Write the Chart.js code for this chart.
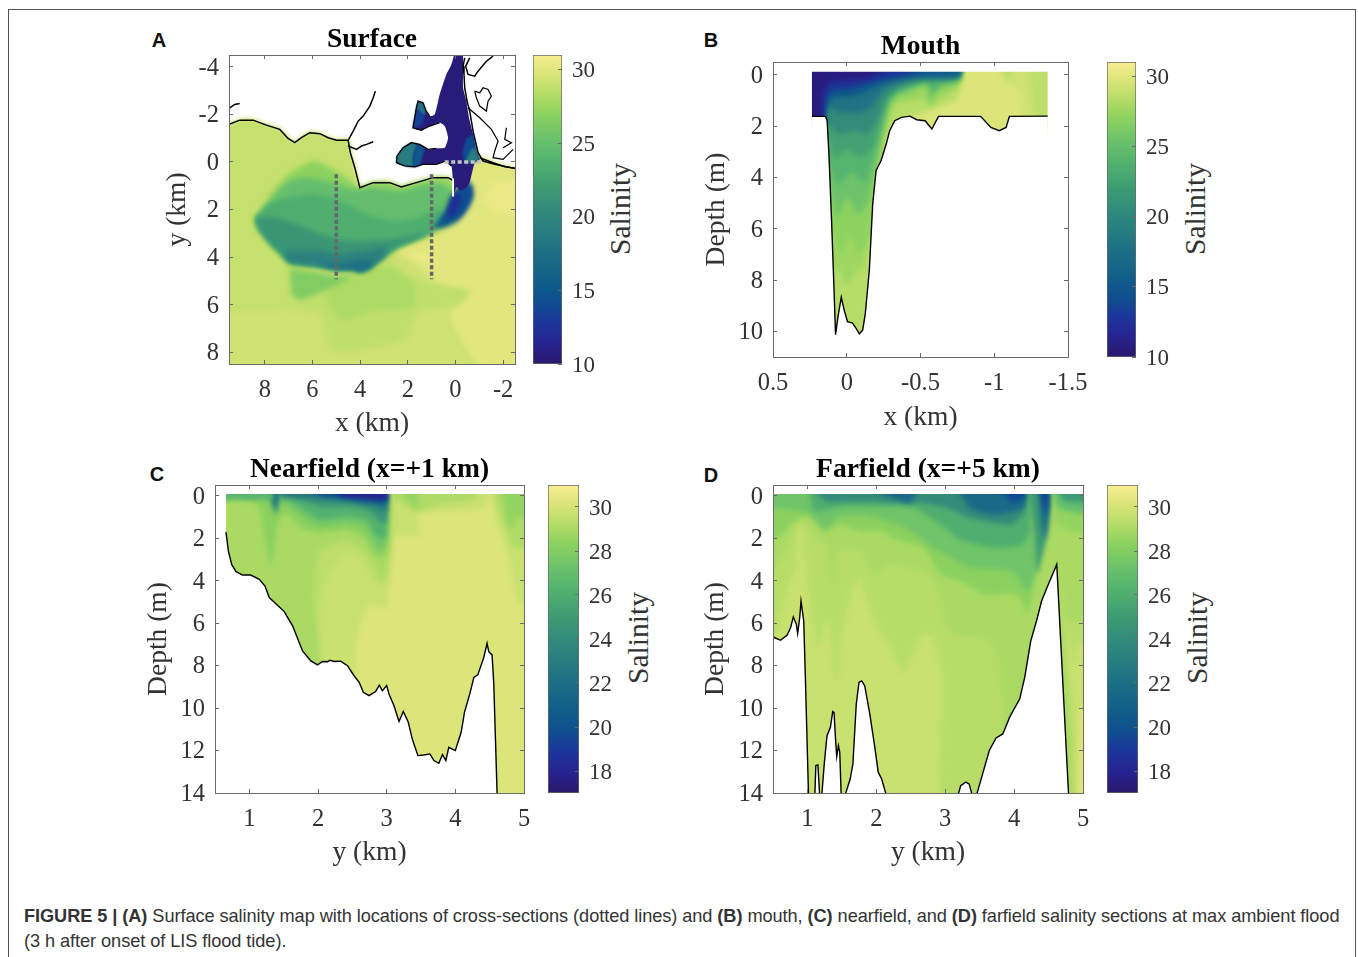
<!DOCTYPE html>
<html>
<head>
<meta charset="utf-8">
<title>Figure 5</title>
<script src="https://cdn.jsdelivr.net/npm/chart.js"></script>
<style>
    html, body { margin: 0; background: #fff; overflow: hidden; }
    body { width: 1358px; height: 957px; position: relative; }
    canvas { position: absolute; }
    #frame { position: absolute; left: 8px; top: 9px; width: 1348px; height: 980px; border: 1.5px solid #555; box-sizing: border-box; }
    .letter { position: absolute; font: bold 20px "Liberation Sans"; color: #111; transform: translate(-50%, -50%); }
    .barlabel { position: absolute; font: 29.5px "Liberation Serif"; color: #333; transform: translate(-50%, -50%) rotate(-90deg); }
    .caption { position: absolute; left: 24px; font: 18.2px "Liberation Sans"; color: #333; white-space: nowrap; transform: translateY(-50%); letter-spacing: -0.07px; }
</style>
</head>
<body>
<div id="frame"></div>
<div class="letter" style="left:159px;top:40px">A</div>
<div class="letter" style="left:711px;top:40px">B</div>
<div class="letter" style="left:157px;top:474px">C</div>
<div class="letter" style="left:711px;top:475px">D</div>
<div class="barlabel" style="left:620px;top:209px">Salinity</div>
<div class="barlabel" style="left:1195px;top:209px">Salinity</div>
<div class="barlabel" style="left:638px;top:638px">Salinity</div>
<div class="barlabel" style="left:1197px;top:638px">Salinity</div>
<div class="caption" style="top:916px"><b>FIGURE 5 | (A)</b> Surface salinity map with locations of cross-sections (dotted lines) and <b>(B)</b> mouth, <b>(C)</b> nearfield, and <b>(D)</b> farfield salinity sections at max ambient flood</div>
<div class="caption" style="top:941px">(3 h after onset of LIS flood tide).</div>
<script>
// tick labels
const aXTicks = [8, 6, 4, 2, 0, -2];
const aYTicks = [-4, -2, 0, 2, 4, 6, 8];
const bXTicks = [0.5, 0, -0.5, -1, -1.5];
const bYTicks = [0, 2, 4, 6, 8, 10];
const sectionXTicks = [1, 2, 3, 4, 5];
const sectionYTicks = [0, 2, 4, 6, 8, 10, 12, 14];
const wideBarTicks = [10, 15, 20, 25, 30];
const narrowBarTicks = [18, 20, 22, 24, 26, 28, 30];

// Contour polygons run past the plot box so softening leaves no pale rim at its edges.

// Panel A, surface map: [x km, y km]
const aCoastWest = [[9.5,-1.58],[9.05,-1.76],[8.49,-1.76],[7.93,-1.55],[7.37,-1.37],[7.02,-0.99],[6.74,-0.81],[6.46,-1.02],[6.11,-1.23],[5.69,-1.19],[5.34,-1.02],[4.99,-0.91],[4.5,-0.91],[4.41,-0.39],[4.22,0.24],[4.01,1.08],[3.45,0.87],[2.76,0.87],[2.27,1.05],[1.64,0.87],[0.94,0.66],[0.31,0.66],[0.05,0.8]];
const aCoastEast = [[-1.02,-0.18],[-1.58,0.03],[-2.07,0.2],[-2.5,0.27]];
const aWater = [[10,-1.58], ...aCoastWest, [-0.3,0.8], [-0.67,0.1], ...aCoastEast, [-3,0.27], [-3,9], [10,9]];
const aWest = [[10,-1.58], ...aCoastWest.slice(0, 20), [1.5,3],[2.5,4],[3.5,5],[5,6.3],[7,6.2],[10,6.3]];
const aEast = [[-3,0.27],[-2.49,0.27],[-1.58,0.03],[-1.02,-0.18],[-0.6,0.24],[-0.6,1.08],[-0.18,2.34],[0.66,3.04],[2.48,3.74],[1.64,4.3],[0.66,5.14],[-0.6,5.56],[0.24,6.4],[-0.18,7.38],[-1.3,9],[-3,9]];
const aEastBright = [[-1.5,0.9],[-3,0.8],[-3,2.2],[-1.7,2.2],[-1.2,1.6]];
const aStreak = [[2.1,3.9],[1.2,4.3],[0.6,4.3],[1.3,3.8]];
const aSouth = [[7.09,4.44],[4.85,4.86],[2.9,4.16],[2.06,4.72],[0.94,5.14],[-0.6,5.42],[-0.04,5.98],[1.64,6.4],[2.06,7.38],[4.15,7.94],[5.27,7.87],[5.62,6.4],[6.67,5.84],[6.95,5.28]];
const aSouthDeep = [[3.59,4.5],[4.85,5],[5.41,5.7],[4.71,6.68],[3.45,6.26],[1.78,6.12],[1.78,5.14],[2.62,4.44]];
const aSpur = [[6.95,4.47],[5.83,4.65],[4.85,4.83],[4.29,4.69],[4.85,5.14],[5.69,5.49],[6.53,5.81],[6.88,5.56]];
const aPlumeSouth = [[0.94,2.9],[1.64,3.25],[2.48,3.6],[3.03,4.02],[3.59,4.44],[4.01,4.61],[4.29,4.51],[4.99,4.51],[5.83,4.37],[6.95,4.23],[7.37,3.81],[7.86,3.32],[8.28,2.76],[8.38,2.34]];
const aPlumeOuter = [[8.38,2.34],[8,1.71],[7.65,1.22],[7.16,0.66],[6.67,0.31],[5.97,-0.04],[5.27,0.24],[4.57,0.66],[4.01,1.08],[3.45,0.87],[2.76,0.87],[2.27,1.05],[1.64,0.87],[0.94,0.66],[0.31,0.66],[0.03,0.94],[-0.18,1.64],[-0.04,2.06],[0.38,2.48], ...aPlumeSouth];
const aPlumeMiddle = [[8.38,2.34],[7.93,1.92],[7.51,1.36],[6.95,0.8],[6.25,0.66],[5.41,0.8],[4.29,1.15],[3.45,1.08],[2.27,1.22],[1.5,1],[0.66,0.94],[0.17,1.22],[-0.18,1.64],[-0.04,2.06],[0.38,2.48], ...aPlumeSouth];
const aPlumeInner = [[8.38,2.34],[7.86,1.78],[6.95,1.5],[5.97,1.36],[4.85,1.64],[3.73,2.2],[2.62,2.48],[1.5,2.34],[0.66,1.92],[0.24,2.34], ...aPlumeSouth];
const aPlumeTeal = [[8.38,2.34],[7.65,2.34],[6.67,2.62],[5.69,3.04],[4.57,3.32],[3.45,3.32],[2.2,3.18], ...aPlumeSouth];
const aPlumeDeep = [[7.23,3.74],[5.97,3.74],[4.85,3.88],[3.73,3.74],[2.9,3.6],[3.03,4.02],[3.59,4.44],[4.01,4.61],[4.29,4.51],[4.99,4.51],[5.83,4.37],[6.95,4.23]];
const aPlumeEdge = [[5.83,4.23],[4.85,4.3],[4.01,4.16],[3.45,4.16],[3.59,4.44],[4.01,4.61],[4.29,4.51],[4.99,4.51]];
const aJetOuter = [[-0.32,0.87],[-0.53,0.8],[-0.74,1.36],[-0.6,1.78],[-0.11,2.48],[0.45,2.76],[0.94,2.76],[0.38,2.06],[0.13,1.5]];
const aJetMiddle = [[0.17,1.5],[-0.18,1.08],[-0.67,0.94],[-0.7,1.5],[-0.32,2.2],[0.31,2.48],[0.66,2.65],[0.38,2.06]];
const aJetInner = [[0.1,1.43],[-0.11,1.15],[-0.18,1.64],[-0.04,2.06],[0.24,2.34],[0.31,2.06]];
const aEstuary = [[0.03,-4.6],[0.17,-4.1],[0.38,-3.68],[0.66,-2.84],[0.87,-2],[1.08,-1.93],[1.24,-2.17],[1.36,-2.49],[1.57,-2.56],[1.64,-2.28],[1.71,-1.86],[1.78,-1.44],[1.43,-1.33],[1.08,-1.51],[0.66,-1.65],[0.45,-1.51],[0.31,-1.02],[0.45,-0.6],[0.8,-0.57],[1.15,-0.53],[1.5,-0.74],[1.85,-0.81],[2.2,-0.6],[2.45,-0.25],[2.48,0.03],[2.13,0.17],[1.71,0.21],[1.36,0.1],[0.8,0.1],[0.38,-0.04],[0.17,0.17],[0.1,0.94],[0.13,1.5],[-0.05,1.05],[-0.2,1.2],[-0.45,1.1],[-0.6,0.85],[-0.81,0.03],[-1.02,-0.11],[-0.88,-0.46],[-0.74,-1.16],[-0.57,-1.86],[-0.46,-2.56],[-0.32,-3.12],[-0.32,-3.68],[-0.32,-4.6]];
const aLowerBayWest = [[2.45,-0.25],[2.2,-0.6],[1.85,-0.81],[1.6,-0.74],[1.75,-0.3],[1.78,0.2],[2.13,0.17],[2.48,0.03]];
const aLowerBayMiddle = [[1.6,-0.74],[1.3,-0.6],[1.4,-0.2],[1.5,0.15],[1.78,0.2],[1.75,-0.3]];
const aUpperBayTop = [[1.57,-2.56],[1.36,-2.49],[1.24,-2.17],[1.3,-1.95],[1.5,-2.1],[1.64,-2.28]];
const aUpperBayLow = [[1.64,-2.28],[1.5,-2.1],[1.3,-1.95],[1.4,-1.6],[1.78,-1.44],[1.71,-1.86]];
const aBankBlue = [[-0.74,-1.16],[-0.88,-0.46],[-0.5,0.1],[-0.3,-0.3],[-0.45,-1]];
const aBankTeal = [[-1.02,-0.11],[-0.88,-0.46],[-0.74,-0.6],[-0.5,-0.2],[-0.45,0],[-0.81,0.03]];
const aUpperBayShore = [[1.08,-1.93],[1.24,-2.17],[1.36,-2.49],[1.57,-2.56],[1.64,-2.28],[1.71,-1.86],[1.78,-1.44],[1.43,-1.33],[1.08,-1.51],[0.66,-1.65]];
const aLowerBayShore = [[0.8,-0.57],[1.15,-0.53],[1.5,-0.74],[1.85,-0.81],[2.2,-0.6],[2.45,-0.25],[2.48,0.03],[2.13,0.17],[1.71,0.21],[1.36,0.1],[0.8,0.1],[0.38,-0.04],[0.17,0.17]];
const aEastBank = [[-0.39,-4.38],[-0.32,-4.03],[-0.36,-3.68],[-0.39,-3.12],[-0.49,-2.56],[-0.6,-2.14],[-0.74,-1.3],[-0.95,-0.39],[-1.16,-0.04],[-1.65,0.1],[-2.49,0.27]];
const aNorthEast = [[-1.58,-4.45],[-1.3,-4.24],[-0.95,-3.82],[-0.81,-3.61],[-0.53,-3.68],[-0.43,-4.03],[-0.6,-4.38]];
const aMarsh = [[-0.53,-2.28],[-1.02,-1.86],[-1.51,-1.37],[-1.79,-0.88],[-1.65,-0.46],[-1.58,-0.18],[-2,-0.11],[-2.42,-0.53]];
const aMarshIsland = [[-0.81,-2.98],[-1.02,-2.91],[-1.16,-3.12],[-1.37,-3.05],[-1.51,-2.77],[-1.37,-2.56],[-1.3,-2.14],[-1.02,-2.35],[-0.88,-2.7],[-0.81,-2.98]];
const aMarshCreek = [[-2.14,-1.44],[-2.07,-0.95],[-2.35,-0.81],[-2,-0.6]];
const aWestStub = [[9.5,-1.93],[9.5,-2.25],[9.26,-2.42],[9.05,-2.46]];
const aCreekNorth = [[4.5,-0.91],[4.29,-1.3],[4.08,-1.72],[3.87,-1.93],[3.59,-2.35],[3.45,-2.7],[3.36,-2.98]];
const aCreekEast = [[4.5,-0.67],[4.15,-0.53],[3.94,-0.67],[3.73,-0.74],[3.45,-0.85]];
const aMouthSliver = [[0.1,0.7],[0.1,1.45]];
const aFarfieldSection = [[5,0.52],[5,4.93]];
const aNearfieldSection = [[1,0.52],[1,4.93]];
const aMouthSection = [[0.45,0],[-1.16,0]];

// Panel B, mouth section: [x km, depth m]
const bBathymetry = [[0.236,1.62],[0.144,1.62],[0.133,1.79],[0.121,3.08],[0.103,5.67],[0.087,8.25],[0.076,10.13],[0.059,9.42],[0.037,8.67],[0.018,9.16],[-0.005,9.62],[-0.039,9.68],[-0.062,9.87],[-0.085,10.1],[-0.108,9.95],[-0.126,9.3],[-0.153,7.62],[-0.176,5.03],[-0.199,3.73],[-0.233,3.34],[-0.268,2.69],[-0.291,2.18],[-0.325,1.79],[-0.371,1.66],[-0.428,1.61],[-0.474,1.75],[-0.531,1.79],[-0.577,2.11],[-0.622,1.62],[-0.908,1.62],[-0.977,2.05],[-1.034,2.18],[-1.08,2.05],[-1.103,1.62],[-1.362,1.61]];
const bFull = [[0.3,-0.4],[-1.45,-0.4],[-1.45,11],[0.3,11]];
const bEastA = [[-1.01,-0.4],[-1.08,0.23],[-1.14,0.49],[-1.19,0.88],[-1.19,2],[-1.45,2],[-1.45,-0.4]];
const bEastB = [[-1.23,-0.4],[-1.25,0.49],[-1.3,2],[-1.45,2],[-1.45,-0.4]];
const bEastC = [[-1.06,-0.4],[-1.08,0.17],[-1.11,0.04],[-1.13,-0.4]];
const bContour284 = [[0.3,-0.4],[-0.765,-0.4],[-0.75,0.9],[-0.6,1.3],[-0.4,1.7],[-0.3,2.2],[-0.2,5],[-0.14,9.5],[-0.08,10.3],[0.08,10.3],[0.3,2]];
const bContour276 = [[0.3,-0.4],[-0.765,-0.4],[-0.76,0.4],[-0.7,0.65],[-0.59,1.05],[-0.56,1.2],[-0.52,0.95],[-0.42,1],[-0.33,1.1],[-0.28,1.5],[-0.22,3],[-0.17,6],[-0.11,7.5],[-0.07,7.6],[0,8.2],[0.05,7.6],[0.1,7.8],[0.3,6]];
const bContour270 = [[0.3,-0.4],[-0.765,-0.4],[-0.76,0.3],[-0.7,0.55],[-0.6,0.75],[-0.59,1.1],[-0.57,1.2],[-0.55,0.75],[-0.52,0.55],[-0.44,0.8],[-0.34,0.98],[-0.3,1.35],[-0.25,2.5],[-0.2,4],[-0.15,6.3],[-0.08,7],[-0.02,6.2],[0.04,7],[0.12,5.5],[0.3,2]];
const bContour255 = [[0.3,-0.4],[-0.765,-0.4],[-0.76,0.2],[-0.7,0.4],[-0.6,0.55],[-0.59,0.9],[-0.57,0.95],[-0.55,0.5],[-0.5,0.35],[-0.44,0.6],[-0.34,0.8],[-0.28,1.2],[-0.24,2.3],[-0.2,3.5],[-0.14,5],[-0.08,5.4],[0,4.8],[0.06,5.5],[0.12,4.5],[0.3,2]];
const bContour240 = [[0.3,-0.4],[-0.765,-0.4],[-0.76,0.15],[-0.65,0.35],[-0.58,0.7],[-0.56,0.3],[-0.45,0.45],[-0.34,0.7],[-0.28,1.05],[-0.22,2.4],[-0.18,3.3],[-0.12,4.2],[-0.03,3.8],[0.06,4.3],[0.12,3.5],[0.3,2]];
const bContour225 = [[0.3,-0.4],[-0.765,-0.4],[-0.76,0.12],[-0.6,0.25],[-0.58,0.5],[-0.55,0.2],[-0.45,0.35],[-0.34,0.6],[-0.28,0.95],[-0.22,2],[-0.17,2.9],[-0.08,3.2],[0,2.9],[0.08,3.2],[0.13,2.5],[0.3,2]];
const bContour205 = [[0.3,-0.4],[-0.765,-0.4],[-0.76,0.1],[-0.58,0.2],[-0.5,0.2],[-0.34,0.5],[-0.27,0.85],[-0.2,1.8],[-0.14,2.3],[-0.05,2.2],[0.05,2.3],[0.12,2],[0.3,2]];
const bContour180 = [[0.3,-0.4],[-0.765,-0.4],[-0.76,0.07],[-0.5,0.15],[-0.34,0.35],[-0.25,0.6],[-0.16,1.3],[-0.05,1.5],[0.05,1.45],[0.12,1.3],[0.3,1.9]];
const bContour150 = [[0.3,-0.4],[-0.76,-0.4],[-0.76,0],[-0.45,0.08],[-0.33,0.2],[-0.2,0.45],[-0.1,0.75],[0,0.85],[0.1,0.9],[0.14,1.3],[0.16,1.9],[0.3,1.9]];
const bContour125 = [[0.3,-0.4],[-0.6,-0.4],[-0.4,0],[-0.25,0.15],[-0.1,0.4],[0,0.55],[0.1,0.6],[0.14,0.95],[0.165,1.9],[0.3,1.9]];
const bContour107 = [[0.3,-0.4],[-0.3,-0.4],[-0.15,0.1],[0,0.2],[0.12,0.3],[0.16,0.7],[0.18,1.9],[0.3,1.9]];

// Panel C, nearfield section: [y km, depth m]
const cBathymetry = [[0.66,1.72],[0.695,2.61],[0.743,3.24],[0.806,3.58],[0.903,3.74],[1.02,3.74],[1.145,3.94],[1.228,4.26],[1.29,4.8],[1.387,5.09],[1.508,5.46],[1.63,6.13],[1.775,7.31],[1.896,7.78],[1.993,7.97],[2.065,7.81],[2.138,7.82],[2.177,7.75],[2.235,7.81],[2.33,7.79],[2.43,8.01],[2.525,8.48],[2.6,8.79],[2.66,9.26],[2.743,9.42],[2.84,9.22],[2.893,8.92],[2.937,9.19],[3,8.94],[3.034,9.34],[3.107,9.89],[3.18,10.63],[3.242,10.16],[3.315,10.67],[3.373,11.46],[3.455,12.24],[3.54,12.21],[3.63,12.16],[3.688,12.47],[3.76,12.6],[3.813,12.19],[3.862,12.47],[3.905,11.85],[4,12],[4.085,11.14],[4.133,10.2],[4.21,9.34],[4.27,8.56],[4.327,8.44],[4.414,7.62],[4.462,6.95],[4.487,7.35],[4.535,7.5],[4.56,8.87],[4.608,14]];
const cFull = [[0.5,-0.3],[5.3,-0.3],[5.3,15],[0.5,15]];
const cEastA = [[3,-0.3],[4.49,-0.3],[4.41,0.58],[3.78,0.74],[3.47,0.89],[3.47,1.83],[3.3,1.91],[3.03,1.91],[3,1.91]];
const cEastB = [[3.03,-0.3],[4.32,-0.3],[4.27,0.19],[3.78,0.42],[3.45,0.74],[3.3,0.42],[3.11,0.27]];
const cEastC = [[3.2,-0.3],[3.45,-0.3],[3.42,0.66],[3.35,0.42]];
const cRightA = [[4.51,-0.3],[5.3,-0.3],[5.3,5.2],[4.92,5.04],[4.8,3.24],[4.66,1.83],[4.56,0.58]];
const cRightB = [[4.56,-0.3],[5.3,-0.3],[5.3,2.2],[4.87,2.46],[4.73,1.52],[4.61,0.42]];
const cRightC = [[4.68,-0.3],[5.3,-0.3],[5.3,0.9],[4.9,1.05],[4.8,1.6],[4.73,0.89]];
const cWestA = [[0.5,-0.3],[3,-0.3],[3,5.3],[2.82,5.15],[2.72,5.27],[2.62,6.06],[2.53,7.62],[2.53,8.6],[0.5,8.6]];
const cWestB = [[0.5,-0.3],[3,-0.3],[3,4.18],[2.82,4.02],[2.62,2.93],[2.43,2.69],[2.14,3.71],[2.02,5.74],[1.99,8.4],[0.5,8.4]];
const cWestC = [[0.5,-0.3],[3,-0.3],[3,3.6],[2.91,4],[2.82,3.24],[2.67,2.61],[2.43,2.14],[2.14,2.38],[1.99,2.77],[1.94,5.1],[1.97,8.2],[0.5,8.2]];
const cContour283 = [[3,-0.3],[3,2.8],[2.91,2.93],[2.82,2.77],[2.67,1.99],[2.43,1.6],[2.04,1.75],[1.75,1.52],[1.56,0.89],[1.44,1.05],[1.36,2.61],[1.3,3.32],[1.24,2.3],[1.12,0.42],[0.88,0.19],[0.66,0.27],[0.5,0.27],[0.5,-0.3]];
const cContour275 = [[3,-0.3],[3,2.2],[2.91,2.6],[2.82,2.3],[2.72,1.6],[2.43,1.28],[2.04,1.44],[1.8,1.05],[1.56,0.5],[1.44,0.27],[1.12,0.11],[0.5,0.1],[0.5,-0.3]];
const cContour262 = [[3,-0.3],[3,1.9],[2.94,2],[2.82,1.83],[2.72,1.2],[2.43,0.97],[2.04,1.13],[1.85,0.81],[1.6,0.27],[1.44,0.11],[1.44,-0.3]];
const cContour245 = [[3,-0.3],[3,1.3],[2.89,1.2],[2.72,0.66],[2.43,0.5],[2.04,0.5],[1.75,0.19],[1.56,0.03],[1.56,-0.3]];
const cContour225 = [[3,-0.3],[3,0.75],[2.82,0.5],[2.33,0.23],[1.85,0.11],[1.46,0.03],[1.46,-0.3]];
const cContour200 = [[3,-0.3],[3,0.35],[2.72,0.27],[2.33,0.11],[2.04,0.03],[1.94,-0.3]];
const cContour180 = [[3,-0.3],[3,0.18],[2.62,0.11],[2.33,0.03],[2.23,-0.3]];
const cSpikeOuter = [[1.29,-0.3],[1.34,0.58],[1.39,0.89],[1.42,0.5],[1.45,-0.3]];
const cSpikeInner = [[1.34,-0.3],[1.37,0.5],[1.4,0.5],[1.42,-0.3]];
const cTopLeft = [[0.5,-0.3],[0.5,0.11],[1.12,0.19],[1.34,0.11],[1.34,-0.3]];

// Panel D, farfield section: [y km, depth m]
const dHillWest = [[0.5,6.66],[0.52,6.68],[0.609,6.81],[0.707,6.56],[0.756,6.21],[0.795,5.71],[0.839,6.06],[0.858,6.49],[0.888,5.74],[0.907,4.96],[0.946,5.9],[0.966,8.09],[1.015,14.04],[0.5,14.04]];
const dHillTiny = [[1.108,14.04],[1.122,12.71],[1.152,12.68],[1.176,14.04]];
const dHillDouble = [[1.21,14.04],[1.244,12.63],[1.284,11.3],[1.333,10.91],[1.367,10.16],[1.386,10.2],[1.406,11.38],[1.425,12.28],[1.45,11.77],[1.469,12.08],[1.489,14.04]];
const dHillRound = [[1.553,14.04],[1.621,13.33],[1.66,12.63],[1.709,9.81],[1.748,8.79],[1.787,8.72],[1.831,8.95],[1.905,10.28],[1.978,11.85],[2.027,13.02],[2.076,13.33],[2.139,14.04]];
const dHillLow = [[3.191,14.04],[3.225,13.65],[3.298,13.49],[3.347,13.57],[3.386,14.04]];
const dHillEast = [[3.46,14.04],[3.543,13.1],[3.64,12],[3.738,11.41],[3.836,11.22],[3.934,10.44],[4.007,10],[4.081,9.58],[4.154,8.56],[4.242,6.84],[4.325,5.9],[4.399,4.96],[4.496,4.18],[4.619,3.24],[4.79,14.04]];
const dFull = [[0.3,-0.3],[5.3,-0.3],[5.3,15],[0.3,15]];
const dEdge = [[4.89,15],[4.94,12],[4.98,9.8],[5.3,9.8],[5.3,15]];
const dContour293 = [[0.3,-0.3],[0.3,6.8],[0.5,6.8],[0.75,4],[0.83,3.08],[0.89,1.36],[0.95,1.99],[1,4.18],[1.07,5.74],[1.16,7.15],[1.26,6.06],[1.32,5.9],[1.38,7.62],[1.43,8.95],[1.47,7.31],[1.54,6.06],[1.65,4.49],[1.76,3.94],[1.86,4.96],[2.03,6.21],[2.2,7.15],[2.37,8.33],[2.44,8.09],[2.64,6.68],[2.81,6.6],[2.96,8.72],[3,15],[4.8,15],[4.7,5.6],[4.87,7.9],[4.93,7],[5.3,6.7],[5.3,-0.3]];
const dContour290 = [[0.3,-0.3],[0.3,3.4],[0.5,3.4],[0.68,2.46],[0.78,1.67],[0.88,0.89],[1,1.28],[1.12,1.99],[1.27,2.3],[1.37,4.33],[1.44,2.61],[1.61,2.54],[1.81,2.61],[1.95,3.71],[2.2,3.24],[2.49,3.4],[2.78,3.71],[2.91,4.8],[3.1,6.45],[3.62,6.76],[3.76,7.62],[3.84,9.97],[3.84,15],[4.8,15],[4.67,3.4],[4.74,5.27],[4.81,5.9],[5.3,5.43],[5.3,-0.3]];
const dContour283 = [[0.3,-0.3],[0.3,2],[0.5,2],[0.63,1.83],[0.78,1.28],[1.02,0.97],[1.27,1.67],[1.46,1.36],[1.76,1.67],[2.05,1.67],[2.34,2.14],[2.69,2.46],[2.93,3.71],[3.22,4.02],[3.57,4.65],[4.03,4.65],[4.2,5.43],[4.3,4.02],[4.4,-0.3]];
const dContour274 = [[0.3,-0.3],[0.3,0.6],[0.5,0.6],[0.78,0.66],[1.02,0.81],[1.27,1.6],[1.42,1.05],[1.86,0.97],[2.25,1.28],[2.54,1.75],[2.83,2.46],[3.08,2.93],[3.37,3.4],[3.96,3.55],[4.2,4.49],[4.33,3.24],[4.4,-0.3]];
const dContour260 = [[1.02,-0.3],[1.1,0.74],[1.27,0.66],[1.56,0.5],[1.95,0.5],[2.54,0.58],[2.93,1.36],[3.22,2.07],[3.71,2.46],[4.11,2.3],[4.23,1.67],[4.2,-0.3]];
const dContour240 = [[1.07,-0.3],[1.27,0.27],[1.86,0.27],[2.25,0.34],[2.64,0.34],[3.03,0.58],[3.37,1.05],[3.96,1.36],[4.15,0.74],[4.2,-0.3]];
const dPatchMiddle = [[1.9,-0.3],[2.25,0.11],[2.49,0.34],[2.59,-0.3]];
const dPatchEast = [[3.18,-0.3],[3.37,0.58],[3.71,0.89],[4.13,0.58],[4.19,-0.3]];
const dPatchDark = [[3.81,-0.3],[3.96,0.27],[4.15,0.11],[4.18,-0.3]];
const dSpikeOuter = [[4.2,-0.3],[4.3,1.83],[4.33,3.7],[4.45,2.3],[4.52,0.74],[4.57,-0.3]];
const dSpikeMiddle = [[4.35,-0.3],[4.4,1.36],[4.45,2.14],[4.5,1.05],[4.54,-0.3]];
const dSpikeInner = [[4.37,-0.3],[4.46,0.89],[4.52,-0.3]];
const dRightA = [[4.55,-0.3],[4.6,1.3],[4.64,1.36],[4.84,1.67],[5.3,1.7],[5.3,-0.3]];
const dRightB = [[4.57,-0.3],[4.62,0.5],[4.69,0.66],[5.3,0.89],[5.3,-0.3]];
const dRightC = [[4.62,-0.3],[4.74,0.27],[5.3,0.27],[5.3,-0.3]];

// white areas left outside the sampled water: x range, y range
const whiteRect = (x0, x1, y0, y1) => [[x0, y0], [x1, y0], [x1, y1], [x0, y1]];
const below = (line, bottom) => [...line, [line[line.length - 1][0], bottom], [line[0][0], bottom]];

// [salinity, polygon], bottom layer first; null salinity = white
const aLayers = [[29.3, aWater], [28.9, aWest], [30, aEast], [30.4, aEastBright], [30.4, aStreak], [28.7, aSouth], [28.1, aSouthDeep], [26.5, aSpur], [27, aPlumeOuter], [25, aPlumeMiddle], [23.5, aPlumeInner], [21.5, aPlumeTeal], [19.5, aPlumeDeep], [17.5, aPlumeEdge], [16, aJetOuter], [14, aJetMiddle], [12, aJetInner], [10.6, aEstuary], [19, aLowerBayWest], [15, aLowerBayMiddle], [18, aUpperBayTop], [13.5, aUpperBayLow], [14, aBankBlue], [19, aBankTeal]];
const bLayers = [[29.8, bFull], [29.3, bEastA], [28.6, bEastB], [28.5, bEastC], [28.4, bContour284], [27.6, bContour276], [27, bContour270], [25.5, bContour255], [24, bContour240], [22.5, bContour225], [20.5, bContour205], [18, bContour180], [15, bContour150], [12.5, bContour125], [10.7, bContour107], [null, below(bBathymetry, 11)], [null, whiteRect(0.5, 0.236, -0.5, 11)], [null, whiteRect(0.5, 0.16, 2, 11)], [null, whiteRect(-1.362, -1.5, -0.5, 11)], [null, whiteRect(-1.3, -1.5, 2.3, 11)], [null, whiteRect(0.5, -1.5, -0.5, -0.12)]];
const cLayers = [[30.2, cFull], [29.7, cEastA], [29.1, cEastB], [28.5, cEastC], [29.7, cRightA], [29.1, cRightB], [28.5, cRightC], [29.7, cWestA], [29.4, cWestB], [29, cWestC], [28.3, cContour283], [27.5, cContour275], [26.2, cContour262], [24.5, cContour245], [22.5, cContour225], [20, cContour200], [18, cContour180], [24.5, cSpikeOuter], [21.5, cSpikeInner], [26.5, cTopLeft], [null, below(cBathymetry, 14.5)], [null, whiteRect(0.5, 0.66, -0.5, 14.5)], [null, whiteRect(0.5, 0.69, 3, 14.5)], [null, whiteRect(0.5, 5, -0.5, -0.08)]];
const dLayers = [[29.7, dFull], [30.2, dEdge], [29.3, dContour293], [29, dContour290], [28.3, dContour283], [27.4, dContour274], [26, dContour260], [24, dContour240], [21.6, dPatchMiddle], [21.6, dPatchEast], [19.6, dPatchDark], [25, dSpikeOuter], [21.8, dSpikeMiddle], [19.5, dSpikeInner], [28.5, dRightA], [27, dRightB], [25, dRightC], [null, whiteRect(0.5, 5, -0.5, -0.08)]];

// haline colour map: position along the bar, rgb
const haline = [[0, [42,24,108]], [0.07, [38,35,145]], [0.14, [28,55,155]], [0.19, [15,75,145]], [0.24, [14,88,140]], [0.33, [25,105,135]], [0.476, [45,135,125]], [0.57, [60,155,115]], [0.667, [85,180,110]], [0.714, [100,190,110]], [0.81, [140,210,95]], [0.857, [170,218,100]], [0.905, [200,225,110]], [0.952, [225,230,125]], [1, [248,238,145]]];

const salinityColor = (salinity, range) => {
    const t = Math.min(1, Math.max(0, (salinity - range[0]) / (range[1] - range[0])));
    let i = 0;
    while (i < haline.length - 2 && t > haline[i + 1][0]) i++;
    const [t0, c0] = haline[i];
    const [t1, c1] = haline[i + 1];
    const f = (t - t0) / (t1 - t0);
    return `rgb(${c0.map((c, k) => Math.round(c + (c1[k] - c) * f)).join(',')})`;
};

const SERIF = '"Liberation Serif"';
const AXIS_COLOR = '#6a6a6a';
const TEXT_COLOR = '#333';

const toPoints = pts => pts.map(([x, y]) => ({ x, y }));

const layerDataset = (salinity, pts, range, i) => ({
    data: toPoints(pts),
    showLine: true,
    fill: 'shape',
    backgroundColor: salinity === null ? '#fff' : salinityColor(salinity, range),
    borderColor: 'transparent',
    borderWidth: 1,
    pointRadius: 0,
    tension: salinity === null ? 0 : 0.2,
    order: 2000 - i
});

const lineDataset = (pts, color, width, dash, i) => ({
    data: toPoints(pts),
    showLine: true,
    fill: false,
    borderColor: color,
    borderWidth: width,
    borderDash: dash || [],
    pointRadius: 0,
    tension: 0,
    order: 1000 - i
});

const hillDataset = (pts, i) => ({
    data: toPoints(pts),
    showLine: true,
    fill: 'shape',
    backgroundColor: '#fff',
    borderColor: '#000',
    borderWidth: 1.4,
    pointRadius: 0,
    tension: 0,
    order: 1000 - i
});

// soften the contour bands only; masks, hills and lines stay sharp.
// The filler paints inside beforeDatasetDraw, so each radius is set one dataset ahead.
const softBands = (radiusFor, bandCount) => {
    const filterFor = i => {
        const r = i < bandCount ? radiusFor(i) : 0;
        return r > 0 ? `blur(${r}px)` : 'none';
    };
    return {
        id: 'softBands',
        beforeDatasetsDraw: chart => { chart.ctx.filter = filterFor(0); },
        afterDatasetDraw: (chart, args) => { chart.ctx.filter = filterFor(args.index + 1); }
    };
};

// axis with ticks drawn inwards, MATLAB box style, kept above the white masks
const boxAxis = (position, range, tickValues, size, extra) => ({
    type: 'linear',
    position,
    min: Math.min(...range),
    max: Math.max(...range),
    reverse: range[0] > range[1],
    afterBuildTicks: scale => { scale.ticks = tickValues.map(value => ({ value })); },
    afterFit: scale => {
        if (position === 'left' || position === 'right') scale.width = size;
        else scale.height = size;
        // label overflow must not shrink the plot box
        scale.paddingLeft = scale.paddingRight = scale.paddingTop = scale.paddingBottom = 0;
    },
    border: { color: AXIS_COLOR, width: 1, z: 1 },
    grid: { drawOnChartArea: false, tickLength: -4, tickColor: AXIS_COLOR, tickWidth: 1, z: 1 },
    ticks: { display: false, autoSkip: false, maxRotation: 0, minRotation: 0 },
    ...extra
});

const labelledTicks = (padding, size, labelOffset) => ({
    display: true,
    autoSkip: false,
    maxRotation: 0,
    minRotation: 0,
    padding,
    labelOffset,
    color: TEXT_COLOR,
    font: { family: SERIF, size },
    callback: v => String(v)
});

const axisTitle = (text, size, weight, padding, color) => ({
    display: true,
    text,
    color,
    padding,
    font: { family: SERIF, size, weight, lineHeight: 1 }
});

const drawPanel = p => {
    const m = { left: 100, right: 30, top: 48, bottom: 80 };
    const cv = document.createElement('canvas');
    const w = p.box.right - p.box.left + m.left + m.right;
    const h = p.box.bottom - p.box.top + m.top + m.bottom;
    cv.width = w;
    cv.height = h;
    cv.style.left = (p.box.left - m.left) + 'px';
    cv.style.top = (p.box.top - m.top) + 'px';
    document.body.appendChild(cv);

    const canvasTop = p.box.top - m.top;
    const canvasBottom = p.box.bottom + m.bottom;
    const canvasLeft = p.box.left - m.left;

    const datasets = [
        ...p.layers.map(([s, pts], i) => layerDataset(s, pts, p.range, i)),
        ...p.hills.map(hillDataset),
        ...p.lines.map(([pts, color, width, dash], i) => lineDataset(pts, color, width, dash, i + 50))
    ];

    new Chart(cv, {
        type: 'scatter',
        data: { datasets },
        plugins: [softBands(p.soften, p.layers.filter(l => l[0] !== null).length)],
        options: {
            responsive: false,
            animation: false,
            events: [],
            layout: { autoPadding: false, padding: 0 },
            plugins: { legend: { display: false }, tooltip: { enabled: false } },
            scales: {
                x: boxAxis('bottom', p.xRange, p.xTicks, m.bottom, {
                    ticks: labelledTicks(16, 24.5, 0),
                    title: axisTitle(p.xLabel, 27.5, 'normal', { top: 0, bottom: canvasBottom - p.xLabelY - 13.75 }, TEXT_COLOR)
                }),
                xTop: boxAxis('top', p.xRange, p.xTicks, m.top, {
                    title: axisTitle(p.title, 27.5, 'bold', { top: p.titleY - canvasTop - 13.75, bottom: 0 }, '#000')
                }),
                y: boxAxis('left', p.yRange, p.yTicks, m.left, {
                    ticks: labelledTicks(14, 24.5, 1.5),
                    title: axisTitle(p.yLabel, 27.5, 'normal', { top: p.yLabelX - canvasLeft - 13.75, bottom: 0 }, TEXT_COLOR)
                }),
                yRight: boxAxis('right', p.yRange, p.yTicks, m.right)
            }
        }
    });
};

const drawColorbar = b => {
    const pad = { left: 1, top: 14, bottom: 14 };
    const axisWidth = 60;
    const cv = document.createElement('canvas');
    cv.width = b.right - b.left + pad.left + axisWidth;
    cv.height = b.bottom - b.top + pad.top + pad.bottom;
    cv.style.left = (b.left - pad.left) + 'px';
    cv.style.top = (b.top - pad.top) + 'px';
    document.body.appendChild(cv);

    const gradient = ctx => {
        const { chart } = ctx;
        if (!chart.chartArea) return '#888';
        const g = chart.ctx.createLinearGradient(0, chart.chartArea.bottom, 0, chart.chartArea.top);
        haline.forEach(([t, c]) => g.addColorStop(t, `rgb(${c.join(',')})`));
        return g;
    };

    new Chart(cv, {
        type: 'bar',
        data: {
            labels: ['Salinity'],
            datasets: [{
                data: [b.range],
                backgroundColor: gradient,
                borderColor: AXIS_COLOR,
                borderWidth: 1,
                borderSkipped: false,
                barPercentage: 1,
                categoryPercentage: 1
            }]
        },
        options: {
            responsive: false,
            animation: false,
            events: [],
            layout: { autoPadding: false, padding: { left: pad.left, right: 0, top: pad.top, bottom: pad.bottom } },
            plugins: { legend: { display: false }, tooltip: { enabled: false } },
            scales: {
                x: { display: false },
                y: boxAxis('right', b.range, b.ticks, axisWidth, {
                    border: { display: false },
                    ticks: labelledTicks(14, 23, 1.5)
                })
            }
        }
    });
};

const BLACK = '#000';
// ranges run left to right and bottom to top
const panels = [
    {
        box: { left: 229, top: 55, right: 515.5, bottom: 364 },
        xRange: [9.5, -2.5], yRange: [8.5, -4.5], xTicks: aXTicks, yTicks: aYTicks, range: [10, 31],
        // estuary outline (layer 17) stays crisp, the bays only lightly soft
        soften: i => (i < 17 ? 2.5 : i === 17 ? 0 : 1),
        title: 'Surface', xLabel: 'x (km)', yLabel: 'y (km)', titleY: 40, xLabelY: 423.5, yLabelX: 178,
        layers: aLayers, hills: [],
        lines: [
            [aCoastWest, BLACK, 1.5], [aCoastEast, BLACK, 1.5], [aEastBank, BLACK, 1.5], [aNorthEast, BLACK, 1.5],
            [aMarsh, BLACK, 1.2], [aMarshIsland, BLACK, 1.2], [aMarshCreek, BLACK, 1.2], [aWestStub, BLACK, 1.5],
            [aCreekNorth, BLACK, 1.5], [aCreekEast, BLACK, 1.5], [aUpperBayShore, BLACK, 1.2], [aLowerBayShore, BLACK, 1.2],
            [aMouthSliver, '#fff', 2],
            [aFarfieldSection, '#666', 3.5, [4, 2.5]], [aNearfieldSection, '#666', 3.5, [4, 2.5]], [aMouthSection, '#c4c4c4', 3.5, [4, 2.5]]
        ]
    },
    {
        box: { left: 772.5, top: 61.5, right: 1068, bottom: 357 },
        xRange: [0.5, -1.5], yRange: [11, -0.5], xTicks: bXTicks, yTicks: bYTicks, range: [10, 31], soften: () => 2.5,
        title: 'Mouth', xLabel: 'x (km)', yLabel: 'Depth (m)', titleY: 46, xLabelY: 417.5, yLabelX: 716,
        layers: bLayers, hills: [], lines: [[bBathymetry, BLACK, 1.4]]
    },
    {
        box: { left: 214.5, top: 484.5, right: 524, bottom: 793 },
        xRange: [0.5, 5], yRange: [14, -0.5], xTicks: sectionXTicks, yTicks: sectionYTicks, range: [17, 31], soften: () => 2.5,
        title: 'Nearfield (x=+1 km)', xLabel: 'y (km)', yLabel: 'Depth (m)', titleY: 469, xLabelY: 853, yLabelX: 158,
        layers: cLayers, hills: [], lines: [[cBathymetry, BLACK, 1.4]]
    },
    {
        box: { left: 773, top: 484.5, right: 1083, bottom: 793 },
        xRange: [0.5, 5], yRange: [14, -0.5], xTicks: sectionXTicks, yTicks: sectionYTicks, range: [17, 31], soften: () => 2.5,
        title: 'Farfield (x=+5 km)', xLabel: 'y (km)', yLabel: 'Depth (m)', titleY: 469, xLabelY: 853, yLabelX: 716,
        layers: dLayers, hills: [dHillWest, dHillTiny, dHillDouble, dHillRound, dHillLow, dHillEast], lines: []
    }
];

const colorbars = [
    { left: 533, right: 562, top: 55, bottom: 364, range: [10, 31], ticks: wideBarTicks },
    { left: 1107, right: 1136, top: 61.5, bottom: 357, range: [10, 31], ticks: wideBarTicks },
    { left: 548, right: 579, top: 484.5, bottom: 793, range: [17, 31], ticks: narrowBarTicks },
    { left: 1107, right: 1138, top: 484.5, bottom: 793, range: [17, 31], ticks: narrowBarTicks }
];

panels.forEach(drawPanel);
colorbars.forEach(drawColorbar);
</script>
</body>
</html>
